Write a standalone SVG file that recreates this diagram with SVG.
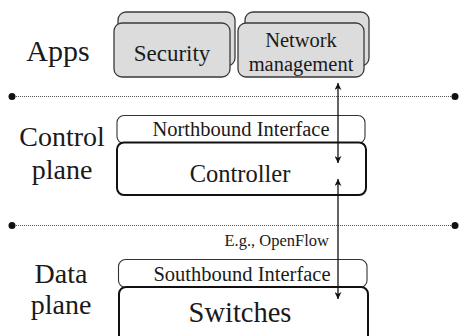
<svg xmlns="http://www.w3.org/2000/svg" width="460" height="336" viewBox="0 0 460 336">
  <defs>
    <marker id="head" viewBox="0 0 10 10" refX="10" refY="5" markerWidth="7" markerHeight="7" markerUnits="userSpaceOnUse" orient="auto-start-reverse">
      <path d="M0,0 L10,5 L0,10 L3,5 Z" fill="#111111"/>
    </marker>
  </defs>
  <rect width="460" height="336" fill="#ffffff"/>

  <!-- layer separators -->
  <g id="separators" fill="#111111">
    <g stroke="#555555" stroke-width="1" stroke-dasharray="1 1">
      <line x1="12" y1="96.5" x2="455" y2="96.5"/>
      <line x1="12" y1="225.5" x2="455" y2="225.5"/>
    </g>
    <circle cx="12" cy="96.5" r="3.5"/>
    <circle cx="455" cy="96.5" r="3.5"/>
    <circle cx="12" cy="225.5" r="3.5"/>
    <circle cx="455" cy="225.5" r="3.5"/>
  </g>

  <!-- layer names -->
  <g id="layer-labels" fill="#1a1a1a" text-anchor="middle">
    <text x="58" y="61" font-family="Times New Roman" font-size="30">Apps</text>
    <text x="62" y="146" font-family="Times New Roman" font-size="28">Control</text>
    <text x="62" y="179" font-family="Times New Roman" font-size="28">plane</text>
    <text x="61" y="283" font-family="Times New Roman" font-size="28">Data</text>
    <text x="61" y="314" font-family="Times New Roman" font-size="28">plane</text>
  </g>

  <!-- application layer: stacked app cards -->
  <g id="app-security">
    <g fill="#dcdcdc" stroke="#3a3a3a" stroke-width="1.3">
      <rect x="118" y="12" width="117" height="54" rx="8"/>
      <rect x="114" y="23" width="116" height="54" rx="8"/>
    </g>
    <text x="172" y="61" font-family="Times New Roman" font-size="23" fill="#1a1a1a" text-anchor="middle">Security</text>
  </g>
  <g id="app-network-management">
    <g fill="#dcdcdc" stroke="#3a3a3a" stroke-width="1.3">
      <rect x="245" y="12" width="124" height="54" rx="8"/>
      <rect x="238" y="23" width="126" height="54" rx="8"/>
    </g>
    <g fill="#1a1a1a" text-anchor="middle">
      <text x="301" y="47" font-family="Times New Roman" font-size="20.5">Network</text>
      <text x="301" y="71" font-family="Times New Roman" font-size="20.5">management</text>
    </g>
  </g>

  <!-- control plane -->
  <g id="northbound-interface">
    <rect x="117" y="115.5" width="248" height="28" rx="7" fill="#ffffff" stroke="#333333" stroke-width="1.1"/>
    <text x="241" y="136" font-family="Times New Roman" font-size="20.5" fill="#1a1a1a" text-anchor="middle">Northbound Interface</text>
  </g>
  <g id="controller">
    <rect x="117" y="142.5" width="249" height="52.5" rx="7" fill="#ffffff" stroke="#111111" stroke-width="2"/>
    <text x="240" y="182" font-family="Times New Roman" font-size="24.5" fill="#1a1a1a" text-anchor="middle">Controller</text>
  </g>

  <!-- data plane -->
  <g id="southbound-interface">
    <rect x="118.5" y="259.5" width="248.5" height="28" rx="7" fill="#ffffff" stroke="#333333" stroke-width="1.1"/>
    <text x="242" y="280.5" font-family="Times New Roman" font-size="20.5" fill="#1a1a1a" text-anchor="middle">Southbound Interface</text>
  </g>
  <g id="switches">
    <rect x="119" y="287" width="249" height="70" rx="7" fill="#ffffff" stroke="#111111" stroke-width="2"/>
    <text x="240" y="322" font-family="Times New Roman" font-size="28.5" fill="#1a1a1a" text-anchor="middle">Switches</text>
  </g>

  <!-- connectors: two-way links between layers -->
  <g id="connectors">
    <g stroke="#111111" stroke-width="1.3" fill="none" marker-start="url(#head)" marker-end="url(#head)">
      <line x1="338" y1="83" x2="338" y2="163"/>
      <line x1="338" y1="179" x2="338" y2="299"/>
    </g>
    <text x="329" y="246" font-family="Times New Roman" font-size="16.5" fill="#1a1a1a" text-anchor="end">E.g., OpenFlow</text>
  </g>
</svg>
